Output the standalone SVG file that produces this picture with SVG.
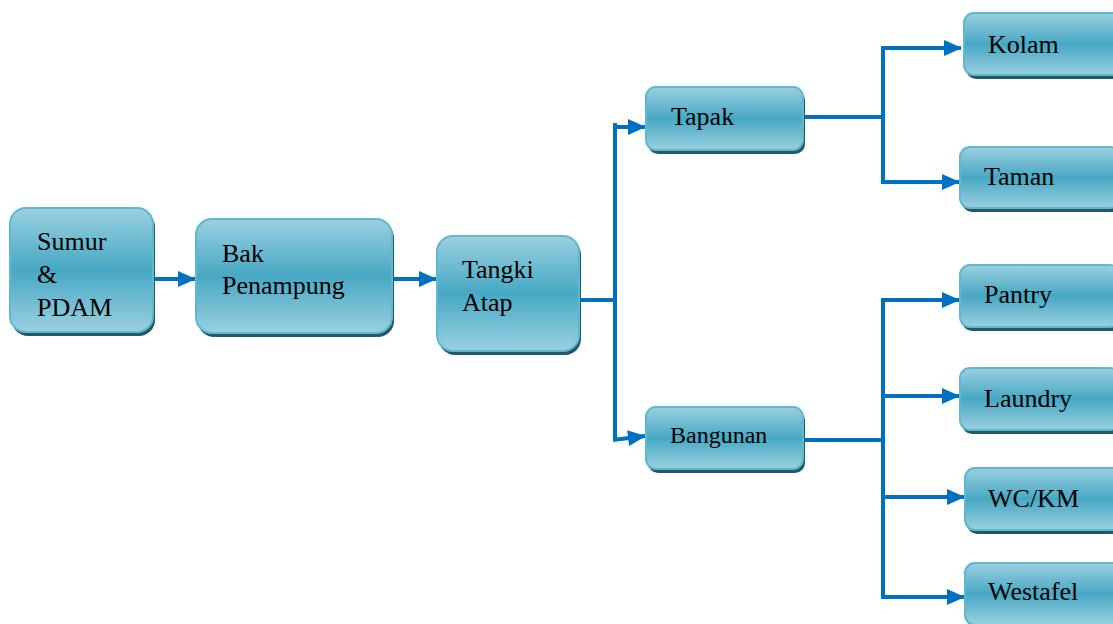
<svg xmlns="http://www.w3.org/2000/svg" width="1113" height="624" viewBox="0 0 1113 624">
<style>
.sh{fill:#215968}
.bx{fill:url(#g);stroke:#5fb8cf;stroke-width:2}
text{font-family:'Liberation Serif','Times New Roman',serif;font-size:26px;fill:#000}
.c{fill:none;stroke:#0070c0;stroke-width:4}
</style>
<defs>
<linearGradient id="g" x1="0" y1="0" x2="0" y2="1">
<stop offset="0" stop-color="#9bd0e0"/>
<stop offset="0.5" stop-color="#47a8c4"/>
<stop offset="1" stop-color="#9bd0e0"/>
</linearGradient>
<marker id="a" markerUnits="userSpaceOnUse" markerWidth="18" markerHeight="16" refX="17" refY="8" orient="auto" overflow="visible">
<path d="M0,0 L18,8 L0,16 Z" fill="#0070c0"/>
</marker>
</defs>
<g id="connectors">
<path class="c" d="M153,279 H195" marker-end="url(#a)"/>
<path class="c" d="M392,279 H436" marker-end="url(#a)"/>
<path class="c" d="M579,300 H615"/>
<path class="c" d="M615,123 V440"/>
<path class="c" d="M613,127 H645" marker-end="url(#a)"/>
<path class="c" d="M613,440 L645,436" marker-end="url(#a)"/>
<path class="c" d="M803,117 H883"/>
<path class="c" d="M883,47 V182"/>
<path class="c" d="M881,48 H961" marker-end="url(#a)"/>
<path class="c" d="M881,182 H959" marker-end="url(#a)"/>
<path class="c" d="M803,440 H883"/>
<path class="c" d="M883,298 V598"/>
<path class="c" d="M881,300 H959" marker-end="url(#a)"/>
<path class="c" d="M881,396 H959" marker-end="url(#a)"/>
<path class="c" d="M881,497 H964" marker-end="url(#a)"/>
<path class="c" d="M881,597 H964" marker-end="url(#a)"/>
</g>
<g id="sumur">
<rect class="sh" x="12" y="211" width="143" height="125" rx="16"/>
<rect class="bx" x="10" y="208" width="143" height="124" rx="16"/>
<text x="37" y="250">Sumur</text>
<text x="37" y="283">&amp;</text>
<text x="37" y="316">PDAM</text>
</g>
<g id="bak">
<rect class="sh" x="198" y="222" width="196" height="115" rx="16"/>
<rect class="bx" x="196" y="219" width="196" height="114" rx="16"/>
<text x="222" y="262">Bak</text>
<text x="222" y="294">Penampung</text>
</g>
<g id="tangki">
<rect class="sh" x="439" y="239" width="142" height="116" rx="16"/>
<rect class="bx" x="437" y="236" width="142" height="115" rx="16"/>
<text x="462" y="278">Tangki</text>
<text x="462" y="311">Atap</text>
</g>
<g id="tapak">
<rect class="sh" x="648" y="90" width="157" height="64" rx="10"/>
<rect class="bx" x="646" y="87" width="157" height="63" rx="10"/>
<text x="671" y="125">Tapak</text>
</g>
<g id="bangunan">
<rect class="sh" x="648" y="410" width="157" height="63" rx="10"/>
<rect class="bx" x="646" y="407" width="157" height="62" rx="10"/>
<text x="670" y="443" style="font-size:24px">Bangunan</text>
</g>
<g id="kolam">
<rect class="sh" x="966" y="16" width="160" height="63" rx="10"/>
<rect class="bx" x="964" y="13" width="160" height="62" rx="10"/>
<text x="988" y="53">Kolam</text>
</g>
<g id="taman">
<rect class="sh" x="962" y="150" width="160" height="62" rx="10"/>
<rect class="bx" x="960" y="147" width="160" height="61" rx="10"/>
<text x="984" y="185">Taman</text>
</g>
<g id="pantry">
<rect class="sh" x="962" y="268" width="160" height="63" rx="10"/>
<rect class="bx" x="960" y="265" width="160" height="62" rx="10"/>
<text x="984" y="303">Pantry</text>
</g>
<g id="laundry">
<rect class="sh" x="962" y="371" width="160" height="63" rx="10"/>
<rect class="bx" x="960" y="368" width="160" height="62" rx="10"/>
<text x="984" y="407">Laundry</text>
</g>
<g id="wckm">
<rect class="sh" x="967" y="471" width="160" height="63" rx="10"/>
<rect class="bx" x="965" y="468" width="160" height="62" rx="10"/>
<text x="988" y="507">WC/KM</text>
</g>
<g id="westafel">
<rect class="sh" x="967" y="566" width="160" height="63" rx="10"/>
<rect class="bx" x="965" y="563" width="160" height="62" rx="10"/>
<text x="988" y="600">Westafel</text>
</g>
</svg>
